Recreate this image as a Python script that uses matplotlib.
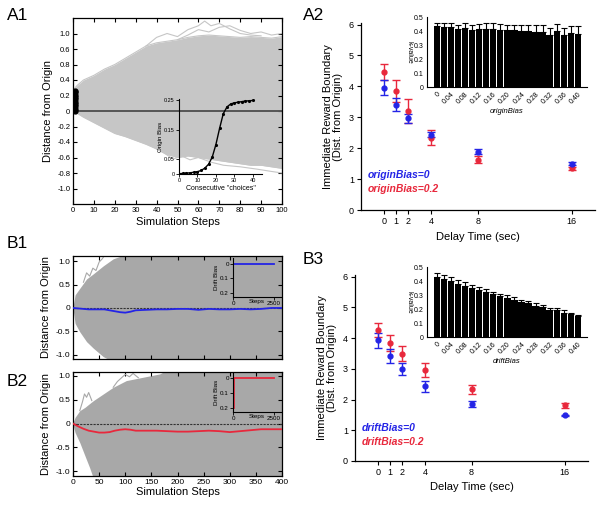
import matplotlib
matplotlib.use('Agg')
import matplotlib.pyplot as plt

plt.rcParams['font.family'] = ['Liberation Sans', 'DejaVu Sans']

# ---------------- data ----------------
# A1 random-walk cloud (envelope)
a1_x = [0, 2, 5, 10, 15, 20, 25, 30, 35, 40, 45, 50, 55, 60, 65, 70, 75, 80, 85, 90, 95, 100]
a1_upper = [0.27, 0.33, 0.40, 0.46, 0.54, 0.60, 0.68, 0.76, 0.84, 0.88, 0.90, 0.92, 0.95, 0.97,
            0.98, 0.97, 0.96, 0.95, 0.96, 0.95, 0.94, 0.96]
a1_lower = [0.0, -0.03, -0.08, -0.15, -0.22, -0.29, -0.33, -0.38, -0.43, -0.49, -0.56, -0.60,
            -0.58, -0.60, -0.62, -0.64, -0.66, -0.68, -0.70, -0.70, -0.72, -0.74]
a1_stray1_x = [35, 40, 45, 50, 55, 60, 63, 66, 70, 75, 80, 85, 90]
a1_stray1_y = [0.84, 0.95, 1.00, 0.96, 1.05, 1.10, 1.16, 1.10, 1.13, 1.06, 1.00, 0.98, 0.97]
a1_stray2_x = [50, 55, 60, 65, 70, 75, 80, 85, 90, 95, 100]
a1_stray2_y = [0.92, 0.98, 1.05, 1.02, 1.08, 1.10, 1.04, 1.00, 1.02, 0.98, 1.00]
a1_stray3_x = [40, 44, 48, 52, 56, 60, 66, 72, 80, 88, 95, 100]
a1_stray3_y = [-0.49, -0.55, -0.62, -0.58, -0.63, -0.60, -0.66, -0.70, -0.72, -0.75, -0.78, -0.80]
a1_start_y = [0.0, 0.03, 0.06, 0.09, 0.12, 0.15, 0.18, 0.21, 0.24, 0.26]
a1_yticks = [1.0, 0.8, 0.6, 0.4, 0.2, 0.0, -0.2, -0.4, -0.6, -0.8, -1.0]
a1_yticklabels = ['1.0', '0.6', '0.8', '0.4', '0.2', '0', '-0.2', '-0.4', '-0.6', '-0.8', '-1.0']

# A1 inset: origin bias vs consecutive choices
choices = [0, 2, 4, 6, 8, 10, 12, 14, 16, 18, 20, 22, 24, 26, 28, 30, 32, 34, 36, 38, 40]
origin_bias = [0.001, 0.002, 0.003, 0.004, 0.006, 0.008, 0.012, 0.020, 0.033, 0.057, 0.100,
               0.155, 0.205, 0.228, 0.238, 0.242, 0.244, 0.246, 0.248, 0.249, 0.250]

# A2 / B3 boundaries
delays = [0, 1, 2, 4, 8, 16]
a2_blue = [3.95, 3.41, 2.97, 2.43, 1.89, 1.50]
a2_blue_err = [0.24, 0.21, 0.15, 0.08, 0.09, 0.05]
a2_red = [4.47, 3.85, 3.20, 2.34, 1.63, 1.35]
a2_red_err = [0.25, 0.35, 0.40, 0.24, 0.11, 0.04]
b3_blue = [3.93, 3.41, 2.99, 2.43, 1.86, 1.48]
b3_blue_err = [0.24, 0.23, 0.20, 0.17, 0.10, 0.03]
b3_red = [4.26, 3.85, 3.49, 2.96, 2.33, 1.81]
b3_red_err = [0.24, 0.26, 0.24, 0.24, 0.15, 0.08]

# insets: k-value vs bias
bias_index = list(range(21))
bias_tick_pos = [0, 2, 4, 6, 8, 10, 12, 14, 16, 18, 20]
bias_ticklabels = ['0', '0.04', '0.08', '0.12', '0.16', '0.20', '0.24', '0.28', '0.32', '0.36', '0.40']
a2_kvalue = [0.435, 0.43, 0.43, 0.415, 0.425, 0.41, 0.415, 0.415, 0.415, 0.41, 0.41,
             0.405, 0.40, 0.40, 0.395, 0.395, 0.37, 0.40, 0.37, 0.385, 0.38]
a2_kerr = [0.025, 0.03, 0.025, 0.03, 0.035, 0.03, 0.035, 0.04, 0.04, 0.04, 0.035,
           0.04, 0.045, 0.045, 0.045, 0.045, 0.05, 0.05, 0.05, 0.05, 0.055]
b3_kvalue = [0.43, 0.415, 0.40, 0.38, 0.365, 0.35, 0.335, 0.32, 0.305, 0.29, 0.28,
             0.265, 0.25, 0.24, 0.225, 0.215, 0.195, 0.19, 0.175, 0.165, 0.15]
b3_kerr = [0.025, 0.025, 0.03, 0.03, 0.025, 0.025, 0.02, 0.025, 0.02, 0.02, 0.02,
           0.02, 0.015, 0.015, 0.015, 0.015, 0.015, 0.015, 0.015, 0.01, 0.01]

# B1 / B2 clouds
b1_x = [0, 4, 13, 26, 39, 58, 77, 102, 400]
b1_upper = [0.02, 0.28, 0.42, 0.62, 0.73, 0.90, 1.05, 1.15, 1.15]
b1_lower = [-0.02, -0.33, -0.51, -0.72, -0.86, -1.04, -1.15, -1.15, -1.15]
b1_stray_x = [20, 26, 32, 38, 44, 50, 56, 62]
b1_stray_y = [0.55, 0.75, 0.68, 0.85, 0.80, 0.98, 1.05, 1.15]
b2_x = [0, 4, 13, 23, 32, 39, 58, 77, 102, 134, 166, 185, 400]
b2_upper = [0.02, 0.13, 0.27, 0.34, 0.42, 0.48, 0.62, 0.76, 0.90, 0.97, 1.04, 1.15, 1.15]
b2_lower = [-0.02, -0.19, -0.40, -0.68, -0.93, -1.15, -1.15, -1.15, -1.15, -1.15, -1.15, -1.15, -1.15]
b2_stray_x = [13, 18, 22, 26, 30, 36]
b2_stray_y = [0.27, 0.45, 0.62, 0.55, 0.65, 0.48]
b2_stray2_x = [77, 85, 92, 100, 108, 115, 125]
b2_stray2_y = [0.76, 0.88, 0.95, 1.03, 0.98, 1.05, 0.96]

steps = [0, 10, 20, 30, 40, 50, 60, 70, 80, 90, 100, 110, 120, 140, 160, 180, 200, 220, 240,
         260, 280, 300, 320, 340, 360, 380, 400]
b1_mean = [0, -0.01, -0.02, -0.03, -0.03, -0.03, -0.03, -0.05, -0.07, -0.09, -0.10, -0.08, -0.05,
           -0.04, -0.03, -0.03, -0.02, -0.02, -0.04, -0.02, -0.03, -0.03, -0.02, -0.03, -0.02, 0.0, 0.0]
b2_mean = [0, -0.06, -0.11, -0.15, -0.17, -0.19, -0.19, -0.18, -0.15, -0.13, -0.12, -0.13, -0.15,
           -0.15, -0.15, -0.16, -0.17, -0.17, -0.16, -0.15, -0.16, -0.18, -0.16, -0.14, -0.12, -0.12, -0.12]

# B insets: drift bias schedules
drift_steps = [0, 2500]
drift_b1 = [0, 0]
drift_b2_x = [50, 50, 2500]
drift_b2_y = [0.2, 0.0, 0.0]

BLUE = '#2424e6'
RED = '#e8283c'
A_GRAY = '#c6c6c6'
B_GRAY = '#a8a8a8'

W, H = 602, 509
fig = plt.figure(figsize=(6.02, 5.09), dpi=100)


def box(l, t, r, b):
    return [l / W, 1 - b / H, (r - l) / W, (b - t) / H]


def frame_style(ax):
    ax.tick_params(direction='in', top=True, right=True, length=3, width=0.8,
                   labelsize=5.5, pad=2)
    for s in ax.spines.values():
        s.set_linewidth(0.9)


# ---------------- A1 ----------------
ax = fig.add_axes(box(73, 18, 282, 204))
ax.fill_between(a1_x, a1_lower, a1_upper, color=A_GRAY, lw=0)
for xs, ys in [(a1_x, a1_upper), (a1_x, a1_lower), (a1_stray1_x, a1_stray1_y),
               (a1_stray2_x, a1_stray2_y), (a1_stray3_x, a1_stray3_y)]:
    ax.plot(xs, ys, color=A_GRAY, lw=0.8)
ax.axhline(0, color='#555555', lw=1.4)
ax.plot([1] * len(a1_start_y), a1_start_y, 'o', color='black', ms=3.5)
ax.set_xlim(0, 100)
ax.set_ylim(-1.2, 1.2)
ax.set_xticks(range(0, 101, 10))
ax.set_yticks(a1_yticks)
ax.set_yticklabels(a1_yticklabels)
frame_style(ax)
ax.set_xlabel('Simulation Steps', fontsize=8, labelpad=2)
ax.set_ylabel('Distance from Origin', fontsize=8, labelpad=3)

ins = fig.add_axes(box(179, 99, 262, 174))
ins.patch.set_alpha(0)
ins.plot(choices, origin_bias, '.-', color='black', ms=2.5, lw=1)
ins.set_xlim(0, 45)
ins.set_ylim(0, 0.255)
ins.set_xticks([0, 10, 20, 30, 40])
ins.set_yticks([0, 0.05, 0.15, 0.25])
ins.set_yticklabels(['0', '0.05', '0.15', '0.25'])
ins.spines['top'].set_visible(False)
ins.spines['right'].set_visible(False)
ins.tick_params(labelsize=4, length=2, width=0.6, pad=1)
ins.set_xlabel('Consecutive "choices"', fontsize=5, labelpad=1)
ins.set_ylabel('Origin Bias', fontsize=4.5, labelpad=1)

# ---------------- A2 / B3 ----------------


def boundary_panel(rect, blue, blue_err, red, red_err, lab0, lab1, legend_y):
    ax = fig.add_axes(rect)
    ax.errorbar(delays, red, yerr=red_err, fmt='o', color=RED, ms=3.5, capsize=3,
                elinewidth=1, capthick=1)
    ax.errorbar(delays, blue, yerr=blue_err, fmt='o', color=BLUE, ms=3.5, capsize=3,
                elinewidth=1, capthick=1)
    ax.set_xlim(-2, 18)
    ax.set_ylim(0, 6.05)
    ax.set_xticks(delays)
    ax.set_yticks(range(0, 7))
    ax.spines['top'].set_visible(False)
    ax.spines['right'].set_visible(False)
    for s in ax.spines.values():
        s.set_linewidth(0.9)
    ax.tick_params(labelsize=6.5, length=3, width=0.8, pad=2)
    ax.set_xlabel('Delay Time (sec)', fontsize=8, labelpad=4)
    ax.set_ylabel('Immediate Reward Boundary\n(Dist. from Origin)', fontsize=8, labelpad=4,
                  linespacing=1.0)
    ax.text(-1.4, legend_y, lab0, color=BLUE, fontsize=7.5, fontweight='bold',
            fontstyle='italic')
    ax.text(-1.4, legend_y - 0.45, lab1, color=RED, fontsize=7.5, fontweight='bold',
            fontstyle='italic')
    return ax


def kvalue_inset(rect, vals, errs, xlabel):
    ins = fig.add_axes(rect)
    ins.bar(bias_index, vals, width=0.9, color='black')
    ins.errorbar(bias_index, vals, yerr=[[0] * len(vals), errs], fmt='none', ecolor='black',
                 elinewidth=0.8, capsize=2, capthick=0.8)
    ins.set_xlim(-1.4, 21.3)
    ins.set_ylim(0, 0.5)
    ins.set_yticks([0, 0.1, 0.2, 0.3, 0.4, 0.5])
    ins.set_yticklabels(['0', '0.1', '0.2', '0.3', '0.4', '0.5'])
    ins.set_xticks(bias_tick_pos)
    ins.set_xticklabels(bias_ticklabels, rotation=45, ha='right', va='top',
                        rotation_mode='anchor')
    ins.spines['top'].set_visible(False)
    ins.spines['right'].set_visible(False)
    ins.tick_params(labelsize=5, length=0, pad=2.5)
    ins.set_xlabel(xlabel, fontsize=5.5, fontstyle='italic', labelpad=2)
    ins.set_ylabel('k-value', fontsize=5, rotation=-90, labelpad=6)
    return ins


boundary_panel(box(361, 23, 595, 210), a2_blue, a2_blue_err, a2_red, a2_red_err,
               'originBias=0', 'originBias=0.2', 1.02)
kvalue_inset(box(427, 17, 587, 87), a2_kvalue, a2_kerr, 'originBias')

boundary_panel(box(355, 275, 588, 461), b3_blue, b3_blue_err, b3_red, b3_red_err,
               'driftBias=0', 'driftBias=0.2', 0.98)
kvalue_inset(box(427, 267, 587, 337), b3_kvalue, b3_kerr, 'driftBias')

# ---------------- B1 / B2 ----------------


def walk_panel(rect, xs, lo, hi, mean, mcolor, ylim, show_x):
    ax = fig.add_axes(rect)
    ax.fill_between(xs, lo, hi, color=B_GRAY, lw=0)
    ax.axhline(0, color='#333333', lw=0.8, ls=(0, (2, 1)))
    ax.plot(steps, mean, color=mcolor, lw=1.3, zorder=5)
    ax.set_xlim(0, 400)
    ax.set_ylim(*ylim)
    ax.set_xticks(range(0, 401, 50))
    ax.set_yticks([1.0, 0.5, 0, -0.5, -1.0])
    ax.set_yticklabels(['1.0', '0.5', '0', '-0.5', '-1.0'])
    frame_style(ax)
    ax.tick_params(labelsize=6)
    if show_x:
        ax.set_xlabel('Simulation Steps', fontsize=8, labelpad=1)
    else:
        ax.set_xticklabels([])
    ax.set_ylabel('Distance from Origin', fontsize=8, labelpad=3)
    return ax


def drift_inset(rect, xs, ys, color, ylim):
    ins = fig.add_axes(rect)
    ins.patch.set_alpha(0)
    ins.plot(xs, ys, color=color, lw=1.3)
    ins.set_xlim(0, 2950)
    ins.set_ylim(*ylim)
    ins.set_xticks([0, 2500])
    ins.set_yticks([0, 0.1, 0.2])
    ins.set_yticklabels(['0', '0.1', '0.2'])
    ins.spines['top'].set_visible(False)
    ins.spines['right'].set_visible(False)
    ins.tick_params(labelsize=4.5, length=2, width=0.6, pad=1)
    ins.set_xlabel('Steps', fontsize=4.5, labelpad=-5)
    ins.set_ylabel('Drift Bias', fontsize=4.5, labelpad=1)
    return ins


b1 = walk_panel(box(73, 256, 282, 359), b1_x, b1_lower, b1_upper, b1_mean, BLUE,
                (-1.09, 1.11), False)
b1.plot(b1_stray_x, b1_stray_y, color=B_GRAY, lw=0.8)
drift_inset(box(233, 258, 281, 297), drift_steps, drift_b1, BLUE, (0.228, -0.041))

b2 = walk_panel(box(73, 372, 282, 476), b2_x, b2_lower, b2_upper, b2_mean, RED,
                (-1.10, 1.08), True)
b2.plot(b2_stray_x, b2_stray_y, color=B_GRAY, lw=0.8)
b2.plot(b2_stray2_x, b2_stray2_y, color=B_GRAY, lw=0.8)
drift_inset(box(233, 373, 281, 412), drift_b2_x, drift_b2_y, RED, (0.227, -0.033))

# panel labels
for lab, x, y in [('A1', 7, 8), ('A2', 303, 8), ('B1', 7, 236), ('B2', 7, 374), ('B3', 303, 252)]:
    fig.text(x / W, 1 - y / H, lab, fontsize=12.5, va='top', ha='left')

fig.savefig('out.png', dpi=100)
